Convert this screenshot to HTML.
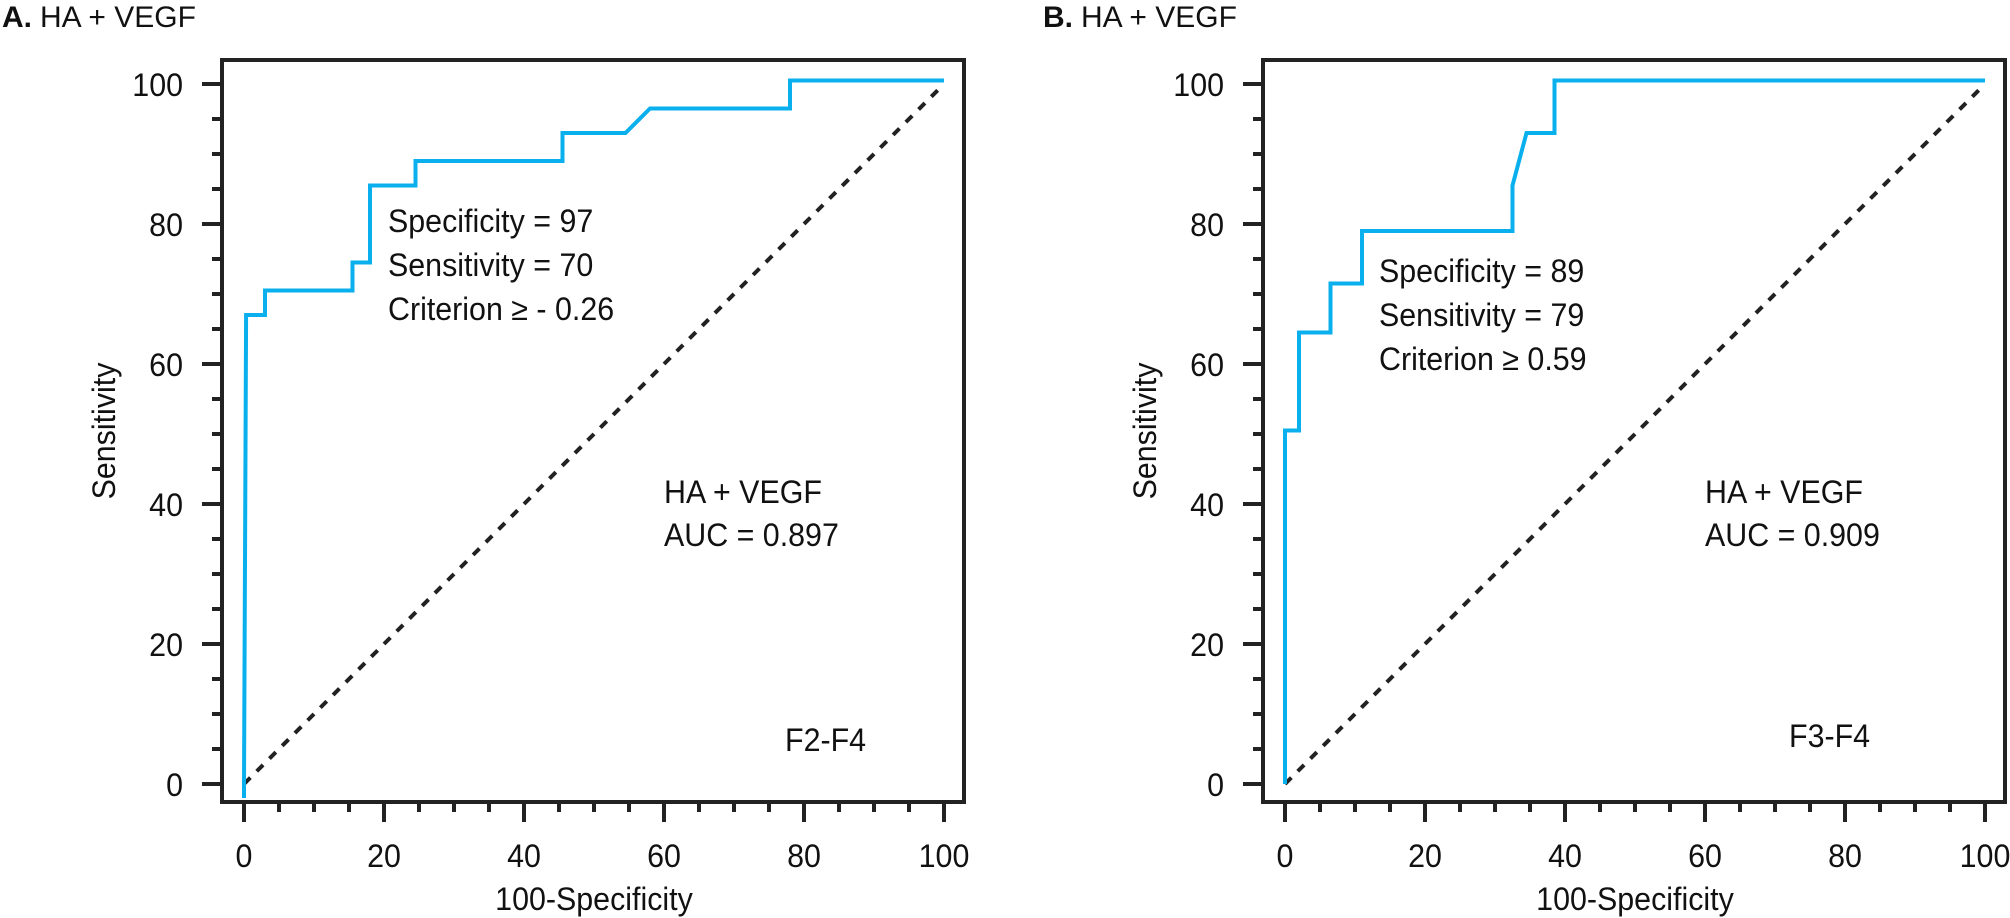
<!DOCTYPE html>
<html><head><meta charset="utf-8"><style>
html,body{margin:0;padding:0;background:#fff;}
svg{display:block;font-family:"Liberation Sans",sans-serif;}
</style></head><body>
<svg id="fig" width="2010" height="918" viewBox="0 0 2010 918" xmlns="http://www.w3.org/2000/svg"></svg>
<script>
// Panel A data
const rocA_x = [0, 0, 0.3, 3, 3, 15.5, 15.5, 18, 18, 24.5, 24.5, 45.5, 45.5, 54.5, 58, 78, 78, 100];
const rocA_y = [-2, 0, 67, 67, 70.5, 70.5, 74.5, 74.5, 85.5, 85.5, 89, 89, 93, 93, 96.5, 96.5, 100.5, 100.5];
// Panel B data
const rocB_x = [0, 0, 2, 2, 6.5, 6.5, 11, 11, 32.5, 32.5, 34.5, 38.5, 38.5, 100];
const rocB_y = [0, 50.5, 50.5, 64.5, 64.5, 71.5, 71.5, 79, 79, 85.5, 93, 93, 100.5, 100.5];
const majorTicks = [0, 20, 40, 60, 80, 100];
const tickLabels = ["0", "20", "40", "60", "80", "100"];
const annotA = ["Specificity = 97", "Sensitivity = 70", "Criterion \u2265 - 0.26"];
const annotB = ["Specificity = 89", "Sensitivity = 79", "Criterion \u2265 0.59"];

const NS = "http://www.w3.org/2000/svg";
const svg = document.getElementById("fig");
function mk(tag, attrs, parent){
  const e = document.createElementNS(NS, tag);
  for (const k in attrs) e.setAttribute(k, attrs[k]);
  (parent||svg).appendChild(e);
  return e;
}
function txt(parent, x, y, s, anchor, size, weight, sc){
  const e = mk("text", {transform:`translate(${x},${y}) scale(${sc||0.95},1)`, "text-anchor":anchor||"start", "font-size":size||32, fill:"#111"}, parent);
  if (weight) e.setAttribute("font-weight", weight);
  e.textContent = s;
  return e;
}

function panel(off, letter, xs, ys, annot, annotY, aucText, groupText, groupX, groupY){
  const g = mk("g", {});
  
  
  const X0 = 244 + off, Y0 = 784;
  const sx = v => X0 + v * 7;
  const sy = v => Y0 - v * 7;
  const fr = mk("rect", {x:222+off, y:60, width:742, height:742, fill:"none", stroke:"#222", "stroke-width":4}, g);
  
  
  for (let v = 0; v <= 100; v += 5){
    const major = v % 20 === 0;
    const yt = mk("line", {x1:222+off-(major?20:10), x2:222+off, y1:sy(v), y2:sy(v), stroke:"#222", "stroke-width":4}, g);
    
    
    const xt = mk("line", {x1:sx(v), x2:sx(v), y1:802, y2:802+(major?20:10), stroke:"#222", "stroke-width":4}, g);
    
    
  }
  majorTicks.forEach((v,i)=>{
    const yl = txt(g, 183+off, sy(v)+12, tickLabels[i], "end");
    
    
    const xl = txt(g, sx(v), 867, tickLabels[i], "middle");
    
    
  });
  const d = mk("line", {x1:sx(0), y1:sy(0), x2:sx(100), y2:sy(100), stroke:"#222", "stroke-width":4, "stroke-dasharray":"9 9"}, g);
  
  
  const pts = xs.map((v,i)=>sx(v)+","+sy(ys[i])).join(" ");
  const c = mk("polyline", {points:pts, fill:"none", stroke:"#0ab0ee", "stroke-width":4}, g);
  
  
  const t1 = txt(g, 2+off, 27, letter + ".", "start", 30, "bold", 1);
  
  
  const t2 = txt(g, 40+off, 27, "HA + VEGF", "start", 30, null, 1);
  
  
  const yt = mk("text", {transform:`translate(${115+off},${431}) rotate(-90) scale(0.95,1)`, "text-anchor":"middle", "font-size":32, fill:"#111"}, g);
  yt.textContent = "Sensitivity";
  
  
  const xtl = txt(g, sx(50), 910, "100-Specificity", "middle");
  
  
  annot.forEach((s,i)=>{
    const a = txt(g, annotY[0], annotY[1] + i*44, s, "start");
    
    
  });
  const h = txt(g, 664+off, 503, "HA + VEGF", "start");
  
  
  const au = txt(g, 664+off, 546, aucText, "start");
  
  
  const gr = txt(g, groupX, groupY, groupText, "start");
  
  
}
panel(0, "A", rocA_x, rocA_y, annotA, [388, 232], "AUC = 0.897", "F2-F4", 785, 751);
panel(1041, "B", rocB_x, rocB_y, annotB, [1379, 282], "AUC = 0.909", "F3-F4", 1789, 747);
</script>
</body></html>
